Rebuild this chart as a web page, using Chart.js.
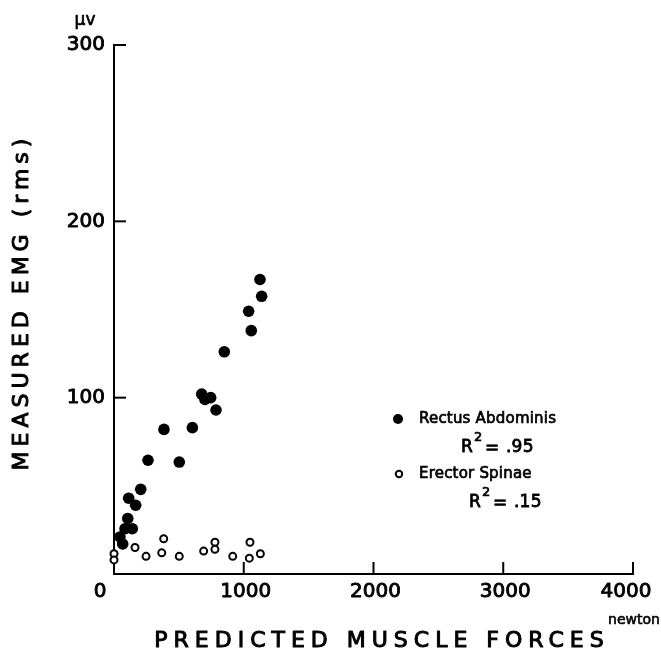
<!DOCTYPE html>
<html><head><meta charset="utf-8">
<script src="https://cdn.jsdelivr.net/npm/chart.js@4"></script>
<style>html,body{margin:0;padding:0;background:#fff}</style>
</head><body>
<canvas id="c" width="661" height="661"></canvas>
<script>
// ---- data ----
const seriesNames = ['Rectus Abdominis', 'Erector Spinae'];
const seriesR2 = ['.95', '.15'];
const forceRA = [1125, 1138, 1038, 1058, 850, 676, 701, 745, 786, 604, 385, 262, 503, 206, 113, 167, 106, 85, 141, 46, 67];
const emgRA   = [167, 157.5, 149, 138, 126, 102, 99, 100, 93, 83, 82, 64.5, 63.5, 48, 43, 39, 31.5, 25.7, 25.7, 21, 17];
const forceES = [0, 0, 162, 247, 383, 368, 503, 691, 778, 778, 915, 1048, 1043, 1128];
const emgES   = [11.5, 8, 15, 10, 20, 12, 10, 13, 18, 14, 10, 18, 9, 11.5];
const xTickVals = [0, 1000, 2000, 3000, 4000];
const yTickVals = [100, 200, 300];
const xTitle = 'PREDICTED MUSCLE FORCES';
const yTitle = 'MEASURED EMG (rms)';
const xUnit = 'newton';
const yUnit = 'μv';

const pts = (xs, ys) => xs.map((x, i) => ({x: x, y: ys[i]}));

const FONT = '"DejaVu Sans", sans-serif';

function txt(ctx, s, x, y, w) {
  ctx.fillText(s, x, y);
  ctx.lineWidth = w;
  ctx.strokeText(s, x, y);
}

const overlay = {
  id: 'overlay',
  afterDraw(chart) {
    const ctx = chart.ctx, xs = chart.scales.x, ys = chart.scales.y;
    const ca = chart.chartArea;
    ctx.save();
    ctx.strokeStyle = '#000'; ctx.fillStyle = '#000';
    ctx.lineJoin = 'round';
    // inward ticks
    ctx.lineWidth = 2;
    xTickVals.forEach(v => {
      if (v === xs.min) return;
      const px = xs.getPixelForValue(v);
      ctx.beginPath(); ctx.moveTo(px, ca.bottom); ctx.lineTo(px, ca.bottom - 12); ctx.stroke();
    });
    yTickVals.forEach(v => {
      const py = ys.getPixelForValue(v);
      ctx.beginPath(); ctx.moveTo(ca.left, py); ctx.lineTo(ca.left + 12, py); ctx.stroke();
    });
    // tick labels
    ctx.font = '20px ' + FONT;
    ctx.textBaseline = 'middle';
    ctx.textAlign = 'center';
    xTickVals.forEach((v, i) => {
      let px = xs.getPixelForValue(v);
      if (i === 0) px -= 14; else if (i === xTickVals.length - 1) px -= 7; else px += 2;
      txt(ctx, String(v), px, ca.bottom + 18, 0.9);
    });
    ctx.textAlign = 'right';
    yTickVals.forEach(v => {
      txt(ctx, String(v), ca.left - 9, ys.getPixelForValue(v), 0.9);
    });
    // units
    ctx.textAlign = 'center';
    ctx.font = '14px ' + FONT;
    txt(ctx, xUnit, 634, ca.bottom + 46, 0.6);
    ctx.font = '17px ' + FONT;
    txt(ctx, yUnit, 85, 21, 0.7);
    // axis titles
    ctx.font = '22px ' + FONT;
    ctx.letterSpacing = '6px';
    txt(ctx, xTitle, 382, 641, 1);
    ctx.save();
    ctx.translate(22, 302);
    ctx.rotate(-Math.PI / 2);
    ctx.letterSpacing = '5px';
    txt(ctx, yTitle, 0, 0, 1);
    ctx.restore();
    ctx.letterSpacing = '0.2px';
    // legend
    ctx.textAlign = 'left';
    const legY = [419, 474];
    const r2Y = [448, 503];
    const r2X = [461, 469];
    legY.forEach((y, i) => {
      ctx.beginPath();
      if (i === 0) { ctx.arc(398, y, 5, 0, Math.PI * 2); ctx.fill(); }
      else { ctx.lineWidth = 2; ctx.arc(399, y, 3.2, 0, Math.PI * 2); ctx.stroke(); }
      ctx.font = '15px ' + FONT;
      txt(ctx, seriesNames[i], 419, y, 0.7);
      ctx.font = '17px ' + FONT;
      txt(ctx, 'R', r2X[i], r2Y[i], 0.8);
      const rw = ctx.measureText('R').width;
      ctx.font = '13px ' + FONT;
      txt(ctx, '2', r2X[i] + rw + 1, r2Y[i] - 10, 0.7);
      ctx.font = '17px ' + FONT;
      txt(ctx, '=', r2X[i] + rw + 12, r2Y[i] + 1, 0.8);
      txt(ctx, seriesR2[i], r2X[i] + rw + 33, r2Y[i], 0.8);
    });
    ctx.restore();
  }
};

new Chart(document.getElementById('c'), {
  type: 'scatter',
  data: {
    datasets: [
      { label: seriesNames[0], data: pts(forceRA, emgRA), pointRadius: 5.8, pointHoverRadius: 5.8,
        backgroundColor: '#000', borderColor: '#000', borderWidth: 0, clip: false },
      { label: seriesNames[1], data: pts(forceES, emgES), pointRadius: 3.5, pointHoverRadius: 3.5,
        backgroundColor: '#fff', borderColor: '#000', borderWidth: 2, clip: false }
    ]
  },
  options: {
    responsive: false,
    animation: false,
    devicePixelRatio: 1,
    layout: { padding: { left: 114, right: 28, top: 45, bottom: 87 } },
    plugins: { legend: { display: false }, tooltip: { enabled: false } },
    scales: {
      x: { type: 'linear', min: 0, max: 4000,
           ticks: { display: false }, grid: { display: false, drawTicks: false },
           border: { display: true, color: '#000', width: 2 } },
      y: { type: 'linear', min: 0, max: 300,
           ticks: { display: false }, grid: { display: false, drawTicks: false },
           border: { display: true, color: '#000', width: 2 } }
    }
  },
  plugins: [overlay]
});
</script>
</body></html>
